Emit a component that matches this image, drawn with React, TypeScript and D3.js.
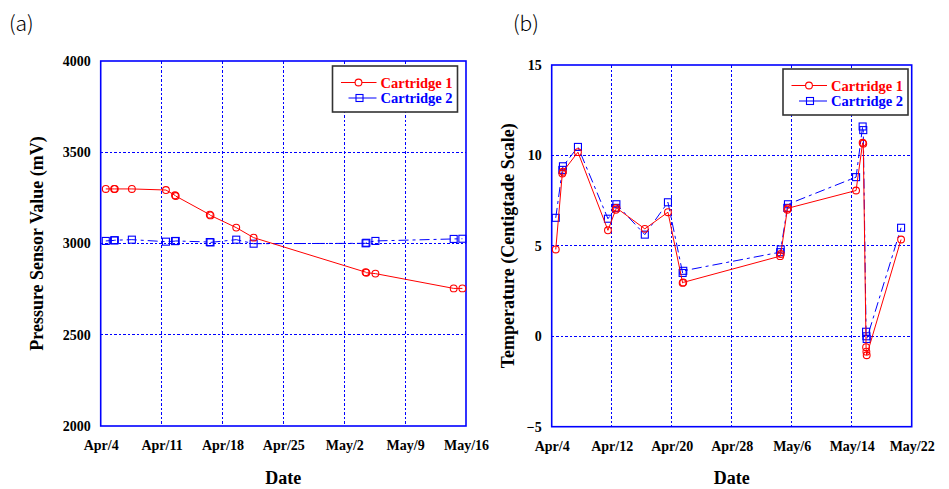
import React, { useEffect, useRef } from "react";
import * as d3 from "d3";

// (a) pressure sensor readings
const pressureTimes = [
  "2020-04-04T14:00", "2020-04-05T13:00", "2020-04-05T15:00", "2020-04-07T14:00",
  "2020-04-11T12:00", "2020-04-12T13:00", "2020-04-12T15:00", "2020-04-16T13:00",
  "2020-04-16T15:00", "2020-04-19T14:00", "2020-04-21T14:00", "2020-05-04T11:00",
  "2020-05-04T13:00", "2020-05-05T14:00", "2020-05-14T14:00", "2020-05-15T14:00",
];
const pressureCart1 = [3299, 3299, 3299, 3299, 3293, 3264, 3260, 3158, 3154, 3087, 3032, 2843, 2840, 2835, 2754, 2754];
const pressureCart2 = [3014, 3017, 3018, 3021, 3010, 3013, 3014, 3008, 3006, 3021, 2999, 3001, 3004, 3014, 3025, 3026];
const pressureTickDates = ["2020-04-04", "2020-04-11", "2020-04-18", "2020-04-25", "2020-05-02", "2020-05-09", "2020-05-16"];
const pressureTickLabels = ["Apr/4", "Apr/11", "Apr/18", "Apr/25", "May/2", "May/9", "May/16"];
const pressureYTicks = [2000, 2500, 3000, 3500, 4000];

// (b) temperature readings
const tempTimes = [
  "2020-04-04T13:00", "2020-04-05T10:00", "2020-04-05T12:00", "2020-04-07T12:00",
  "2020-04-11T12:00", "2020-04-12T13:00", "2020-04-12T15:00", "2020-04-16T10:00",
  "2020-04-19T12:00", "2020-04-21T11:00", "2020-04-21T13:00", "2020-05-04T11:00",
  "2020-05-04T13:00", "2020-05-05T10:00", "2020-05-05T12:00", "2020-05-14T14:00",
  "2020-05-15T11:00", "2020-05-15T13:00", "2020-05-15T22:00", "2020-05-15T23:00",
  "2020-05-16T00:00", "2020-05-20T14:00",
];
const tempCart1 = [4.8, 9.0, 9.1, 10.18, 5.86, 7.0, 7.1, 5.94, 6.86, 2.95, 2.98, 4.43, 4.55, 7.0, 7.08, 8.06, 10.7, 10.65, -0.6, -0.85, -1.05, 5.35];
const tempCart2 = [6.55, 9.2, 9.4, 10.47, 6.5, 7.1, 7.3, 5.62, 7.41, 3.5, 3.62, 4.65, 4.8, 7.1, 7.3, 8.8, 11.6, 11.4, 0.25, 0.0, -0.15, 6.0];
const tempTickDates = ["2020-04-04", "2020-04-12", "2020-04-20", "2020-04-28", "2020-05-06", "2020-05-14", "2020-05-22"];
const tempTickLabels = ["Apr/4", "Apr/12", "Apr/20", "Apr/28", "May/6", "May/14", "May/22"];
const tempYTicks = [-5, 0, 5, 10, 15];

const seriesNames = ["Cartridge 1", "Cartridge 2"];

const RED = "#ff0000";
const BLUE = "#0000ff";
const SERIF = "'Liberation Serif', 'Times New Roman', serif";
const BLUE_DASH = "10,4,3,4";

const parseTime = d3.timeParse("%Y-%m-%dT%H:%M");
const parseDay = d3.timeParse("%Y-%m-%d");

type Panel = {
  x0: number; x1: number; y0: number; y1: number;
  times: string[]; c1: number[]; c2: number[];
  tickDates: string[]; tickLabels: string[]; yTicks: number[];
  yTitle: string; yTitleX: number;
  tag: string; tagX: number;
  legendX: number; legendY: number;
};

function drawPanel(svg: d3.Selection<SVGSVGElement, unknown, null, undefined>, p: Panel) {
  const g = svg.append("g");
  const dates = p.tickDates.map((d) => parseDay(d) as Date);
  const x = d3.scaleTime().domain([dates[0], dates[dates.length - 1]]).range([p.x0, p.x1]);
  const y = d3.scaleLinear().domain([p.yTicks[0], p.yTicks[p.yTicks.length - 1]]).range([p.y1, p.y0]);

  // grid
  g.selectAll(".vgrid")
    .data(dates.slice(1, -1))
    .enter()
    .append("line")
    .attr("x1", (d) => x(d)).attr("x2", (d) => x(d))
    .attr("y1", p.y0).attr("y2", p.y1)
    .attr("shape-rendering", "crispEdges")
    .attr("stroke", BLUE).attr("stroke-width", 1).attr("stroke-dasharray", "2.5,2");
  g.selectAll(".hgrid")
    .data(p.yTicks.slice(1, -1))
    .enter()
    .append("line")
    .attr("x1", p.x0).attr("x2", p.x1)
    .attr("y1", (d) => y(d)).attr("y2", (d) => y(d))
    .attr("shape-rendering", "crispEdges")
    .attr("stroke", BLUE).attr("stroke-width", 1).attr("stroke-dasharray", "2.5,2");

  // axes
  const xAxis = g.append("g")
    .attr("transform", "translate(0," + p.y1 + ")")
    .call(
      d3.axisBottom(x)
        .tickValues(dates)
        .tickSize(0)
        .tickPadding(14)
        .tickFormat((_d, i) => p.tickLabels[i])
    );
  xAxis.select(".domain").remove();
  xAxis.selectAll("text")
    .style("font-family", SERIF).style("font-size", "14px").style("font-weight", "bold").attr("fill", "#000");

  const yAxis = g.append("g")
    .attr("transform", "translate(" + p.x0 + ",0)")
    .call(d3.axisLeft(y).tickValues(p.yTicks).tickSize(0).tickPadding(10).tickFormat(d3.format("d")));
  yAxis.select(".domain").remove();
  yAxis.selectAll("text")
    .style("font-family", SERIF).style("font-size", "14px").style("font-weight", "bold").attr("fill", "#000");

  // frame
  g.append("rect")
    .attr("x", p.x0).attr("y", p.y0)
    .attr("width", p.x1 - p.x0).attr("height", p.y1 - p.y0)
    .attr("fill", "none").attr("stroke", BLUE).attr("stroke-width", 1.6);

  // titles
  g.append("text")
    .attr("transform", "translate(" + p.yTitleX + "," + (p.y0 + p.y1) / 2 + ") rotate(-90)")
    .attr("text-anchor", "middle")
    .attr("dy", "0.35em")
    .style("font-family", SERIF).style("font-size", "18px").style("font-weight", "bold")
    .text(p.yTitle);
  g.append("text")
    .attr("x", (p.x0 + p.x1) / 2).attr("y", 484)
    .attr("text-anchor", "middle")
    .style("font-family", SERIF).style("font-size", "18px").style("font-weight", "bold")
    .text("Date");
  g.append("text")
    .attr("x", p.tagX).attr("y", 31)
    .style("font-family", "'Noto Sans CJK KR', 'Noto Sans', sans-serif")
    .style("font-size", "21px").style("font-weight", 300)
    .text(p.tag);

  // series
  const pts1 = p.times.map((t, i) => ({ t: parseTime(t) as Date, v: p.c1[i] }));
  const pts2 = p.times.map((t, i) => ({ t: parseTime(t) as Date, v: p.c2[i] }));
  const line = d3.line<{ t: Date; v: number }>().x((d) => x(d.t)).y((d) => y(d.v));

  g.append("path").datum(pts2)
    .attr("d", line).attr("fill", "none").attr("stroke", BLUE)
    .attr("stroke-width", 1).attr("stroke-dasharray", BLUE_DASH);
  g.selectAll(".sq").data(pts2).enter().append("rect")
    .attr("x", (d) => x(d.t) - 3.5).attr("y", (d) => y(d.v) - 3.5)
    .attr("width", 7).attr("height", 7)
    .attr("fill", "none").attr("stroke", BLUE).attr("stroke-width", 1.1);

  g.append("path").datum(pts1)
    .attr("d", line).attr("fill", "none").attr("stroke", RED).attr("stroke-width", 1);
  g.selectAll(".ci").data(pts1).enter().append("circle")
    .attr("cx", (d) => x(d.t)).attr("cy", (d) => y(d.v)).attr("r", 3.4)
    .attr("fill", "none").attr("stroke", RED).attr("stroke-width", 1.1);

  // legend
  const lg = g.append("g").attr("transform", "translate(" + p.legendX + "," + p.legendY + ")");
  lg.append("rect").attr("x", 0).attr("y", 0).attr("width", 125).attr("height", 46)
    .attr("fill", "#fff").attr("stroke", "#333").attr("stroke-width", 1.6);
  const colors = [RED, BLUE];
  seriesNames.forEach((name, i) => {
    const cy = 16.5 + i * 15.5;
    lg.append("line")
      .attr("x1", i === 0 ? 8.5 : 16).attr("x2", 44).attr("y1", cy).attr("y2", cy)
      .attr("stroke", colors[i]).attr("stroke-width", 1);
    if (i === 0) {
      lg.append("circle").attr("cx", 26).attr("cy", cy).attr("r", 3.4)
        .attr("fill", "#fff").attr("stroke", RED).attr("stroke-width", 1.1);
    } else {
      lg.append("rect").attr("x", 23.5).attr("y", cy - 3.5).attr("width", 7).attr("height", 7)
        .attr("fill", "none").attr("stroke", BLUE).attr("stroke-width", 1.1);
    }
    lg.append("text")
      .attr("x", 48).attr("y", cy + 5)
      .attr("fill", colors[i])
      .style("font-family", SERIF).style("font-size", "14.5px").style("font-weight", "bold")
      .text(name);
  });
}

const App = () => {
  const ref = useRef<SVGSVGElement>(null);

  useEffect(() => {
    if (!ref.current) return;
    const svg = d3.select(ref.current);
    svg.selectAll("*").remove();

    drawPanel(svg, {
      x0: 100.7, x1: 466, y0: 61, y1: 426,
      times: pressureTimes, c1: pressureCart1, c2: pressureCart2,
      tickDates: pressureTickDates, tickLabels: pressureTickLabels, yTicks: pressureYTicks,
      yTitle: "Pressure Sensor Value (mV)", yTitleX: 37,
      tag: "(a)", tagX: 9,
      legendX: 332.5, legendY: 66,
    });

    drawPanel(svg, {
      x0: 551.7, x1: 911.7, y0: 65, y1: 426.7,
      times: tempTimes, c1: tempCart1, c2: tempCart2,
      tickDates: tempTickDates, tickLabels: tempTickLabels, yTicks: tempYTicks,
      yTitle: "Temperature (Centigtade Scale)", yTitleX: 508,
      tag: "(b)", tagX: 513,
      legendX: 783, legendY: 69,
    });
  }, []);

  return (
    <svg
      ref={ref}
      width={949}
      height={489}
      style={{ position: "absolute", left: 0, top: 0, background: "#fff" }}
    />
  );
};

export default App;
